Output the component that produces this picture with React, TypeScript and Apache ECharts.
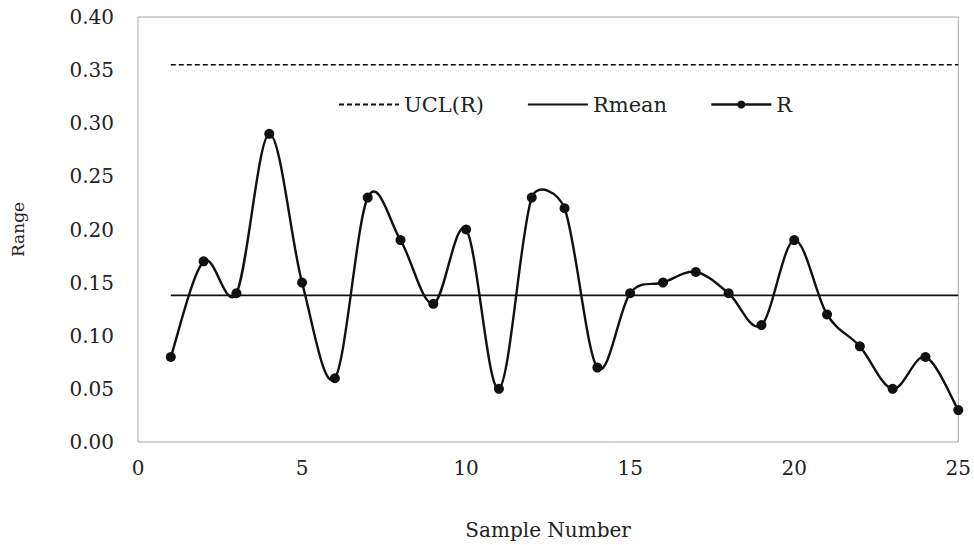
import React, { useEffect, useRef } from "react";
import * as echarts from "echarts";

const sampleNumbers = [1,2,3,4,5,6,7,8,9,10,11,12,13,14,15,16,17,18,19,20,21,22,23,24,25];
const rValues = [0.08,0.17,0.14,0.29,0.15,0.06,0.23,0.19,0.13,0.20,0.05,0.23,0.22,0.07,0.14,0.15,0.16,0.14,0.11,0.19,0.12,0.09,0.05,0.08,0.03];
const uclValue = 0.355;
const rMeanValue = 0.138;
const xTicks = [0, 25, 5];
const yTicks = [0, 0.4, 0.05];

const FONT = "DejaVu Serif";
const INK = "#111";

export default function App() {
  const ref = useRef<HTMLDivElement>(null);
  useEffect(() => {
    if (!ref.current) return;
    const chart = echarts.init(ref.current, null, { renderer: "svg" });
    const first = sampleNumbers[0];
    const last = sampleNumbers[sampleNumbers.length - 1];
    const rData = sampleNumbers.map((x, i) => [x, rValues[i]]);

    const dist = (a: number[], b: number[]) => Math.hypot(a[0] - b[0], a[1] - b[1]);

    // Excel-style smoothed line: Bezier control offsets (p2-p0)/6, capped at half segment length
    const renderSmooth = (params: any, api: any) => {
      if (params.dataIndex !== 0) return null;
      const pts = rData.map((d) => api.coord(d));
      const n = pts.length;
      let d = `M${pts[0][0]},${pts[0][1]}`;
      for (let i = 0; i < n - 1; i++) {
        const p0 = pts[Math.max(0, i - 1)];
        const p1 = pts[i];
        const p2 = pts[i + 1];
        const p3 = pts[Math.min(n - 1, i + 2)];
        const d02 = dist(p0, p2);
        const d12 = dist(p1, p2);
        const d13 = dist(p1, p3);
        let f1 = 1 / 6;
        let f2 = 1 / 6;
        if (d02 / 6 > d12 / 2 && d02 > 0) f1 = d12 / 2 / d02;
        if (d13 / 6 > d12 / 2 && d13 > 0) f2 = d12 / 2 / d13;
        const c1x = p1[0] + (p2[0] - p0[0]) * f1;
        const c1y = p1[1] + (p2[1] - p0[1]) * f1;
        const c2x = p2[0] - (p3[0] - p1[0]) * f2;
        const c2y = p2[1] - (p3[1] - p1[1]) * f2;
        d += ` C${c1x},${c1y} ${c2x},${c2y} ${p2[0]},${p2[1]}`;
      }
      return {
        type: "path",
        shape: { pathData: d },
        style: { fill: "none", stroke: INK, lineWidth: 2.4 },
        silent: true,
      };
    };

    chart.setOption({
      animation: false,
      backgroundColor: "#ffffff",
      grid: {
        left: 138,
        right: 15,
        top: 17,
        bottom: 103,
        show: true,
        borderColor: "#a6a6a6",
        borderWidth: 1,
      },
      legend: {
        left: 333,
        top: 89,
        itemWidth: 60,
        itemHeight: 10,
        itemGap: 43,
        data: [
          { name: "UCL(R)", itemStyle: { opacity: 0 } },
          { name: "Rmean", itemStyle: { opacity: 0 } },
          { name: "R", lineStyle: { opacity: 1, color: INK, width: 2.4 } },
        ],
        textStyle: { fontFamily: FONT, fontSize: 21, color: "#222", width: 88 },
      },
      xAxis: {
        type: "value",
        min: xTicks[0],
        max: xTicks[1],
        interval: xTicks[2],
        name: "Sample Number",
        nameLocation: "middle",
        nameGap: 78,
        nameTextStyle: { fontFamily: FONT, fontSize: 20, color: "#222" },
        axisLine: { show: false },
        axisTick: { show: false },
        splitLine: { show: false },
        axisLabel: { fontFamily: FONT, fontSize: 20, color: "#222", margin: 16 },
      },
      yAxis: {
        type: "value",
        min: yTicks[0],
        max: yTicks[1],
        interval: yTicks[2],
        name: "Range",
        nameLocation: "middle",
        nameGap: 112,
        nameRotate: 90,
        nameTextStyle: { fontFamily: FONT, fontSize: 17, color: "#222" },
        axisLine: { show: false },
        axisTick: { show: false },
        splitLine: { show: false },
        axisLabel: {
          fontFamily: FONT,
          fontSize: 20,
          color: "#222",
          margin: 24,
          formatter: (v: number) => v.toFixed(2),
        },
      },
      series: [
        {
          name: "UCL(R)",
          type: "line",
          symbol: "none",
          data: [[first, uclValue], [last, uclValue]],
          lineStyle: { color: INK, width: 1.6, type: [5, 3] },
          itemStyle: { color: INK },
        },
        {
          name: "Rmean",
          type: "line",
          symbol: "none",
          data: [[first, rMeanValue], [last, rMeanValue]],
          lineStyle: { color: INK, width: 1.8 },
          itemStyle: { color: INK },
        },
        {
          name: "R curve",
          type: "custom",
          renderItem: renderSmooth,
          data: rData,
          silent: true,
          z: 2,
        },
        {
          name: "R",
          type: "line",
          symbol: "circle",
          symbolSize: 10,
          data: rData,
          lineStyle: { color: INK, width: 2.4, opacity: 0 },
          itemStyle: { color: INK },
          z: 3,
        },
      ],
    });
    return () => chart.dispose();
  }, []);
  return <div ref={ref} style={{ width: 974, height: 545, position: "absolute", left: 0, top: 0 }} />;
}
